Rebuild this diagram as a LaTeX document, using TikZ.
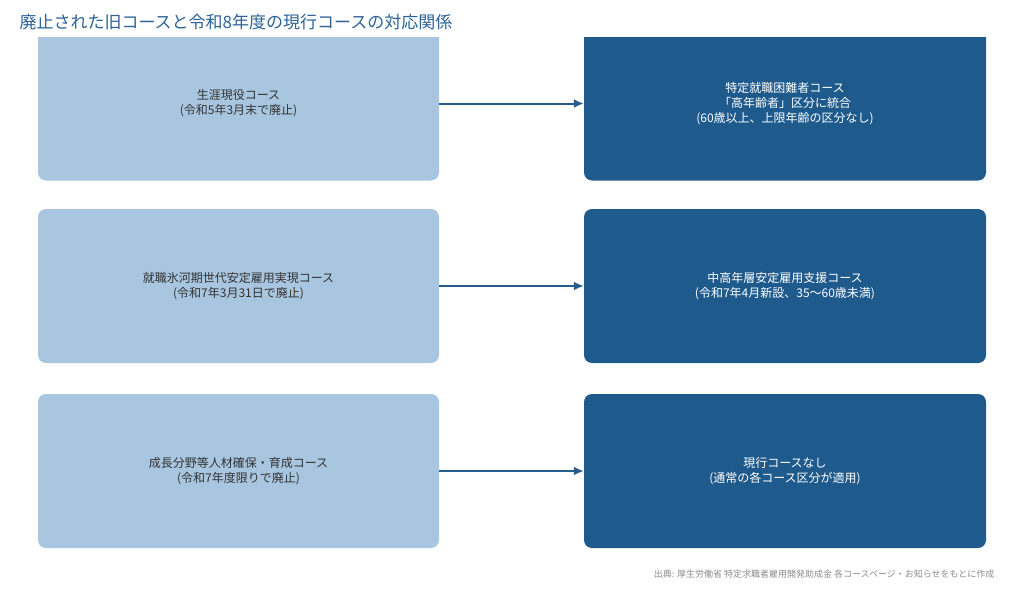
\documentclass[tikz,border=0pt]{standalone}
\usepackage{fontspec}
\setmainfont{Noto Sans CJK JP}
\usetikzlibrary{arrows.meta,positioning}
\definecolor{oldcol}{RGB}{169,198,224}
\definecolor{newcol}{RGB}{30,90,140}
\definecolor{titlecol}{RGB}{44,98,150}
\definecolor{arrowcol}{RGB}{40,92,140}
\definecolor{notecol}{RGB}{140,140,140}
\tikzset{
	oldbox/.style={fill=oldcol, rounded corners=8pt, minimum width=401pt, minimum height=154pt, text=black!80, align=center, font=\fontsize{12pt}{15pt}\selectfont},
	newbox/.style={fill=newcol, rounded corners=8pt, minimum width=402pt, minimum height=154pt, text=white, align=center, font=\fontsize{12pt}{15pt}\selectfont},
	maparrow/.style={draw=arrowcol, line width=2pt, -{Latex[length=10pt,width=9pt]}},
}
\begin{document}
\begin{tikzpicture}[x=1pt,y=-1pt]
	\useasboundingbox (0,0) rectangle (1024,594);
	\node[anchor=base west, text=titlecol, font=\fontsize{17pt}{17pt}\selectfont] (title) at (16,29) {廃止された旧コースと令和8年度の現行コースの対応関係};
	% first row is cut at the top
	\begin{scope}
		\clip (0,38) rectangle (1024,594);
		\node[oldbox] (old1) at (238.5,103.5) {生涯現役コース\\(令和5年3月末で廃止)};
		\node[newbox] (new1) at (785,103.5) {特定就職困難者コース\\「高年齢者」区分に統合\\(60歳以上、上限年齢の区分なし)};
	\end{scope}
	\node[oldbox] (old2) at (238.5,286) {就職氷河期世代安定雇用実現コース\\(令和7年3月31日で廃止)};
	\node[newbox] (new2) at (785,286) {中高年層安定雇用支援コース\\(令和7年4月新設、35〜60歳未満)};
	\node[oldbox] (old3) at (238.5,471) {成長分野等人材確保・育成コース\\(令和7年度限りで廃止)};
	\node[newbox] (new3) at (785,471) {現行コースなし\\(通常の各コース区分が適用)};
	\foreach \i in {1,2,3}
		\draw[maparrow] (old\i.east) -- (new\i.west);
	\node[anchor=base east, text=notecol, font=\fontsize{9pt}{9pt}\selectfont] (source) at (998,577) {出典: 厚生労働省 特定求職者雇用開発助成金 各コースページ・お知らせをもとに作成};
\end{tikzpicture}
\end{document}
